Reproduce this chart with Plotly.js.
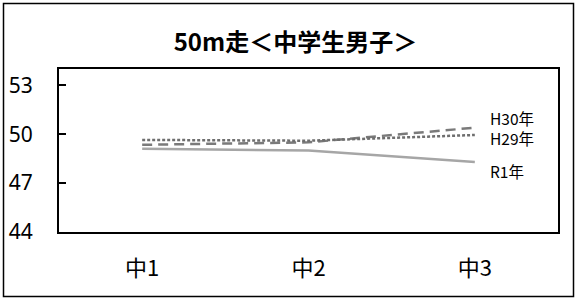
<!DOCTYPE html>
<html>
<head>
<meta charset="utf-8">
<script src="https://cdn.plot.ly/plotly-3.0.1.min.js"></script>
<style>
  html, body { margin: 0; padding: 0; background: #fff; }
  #chart { width: 577px; height: 300px; }
</style>
</head>
<body>
<div id="chart"></div>
<script>
const categories = ['中1', '中2', '中3'];
const seriesNames = ['H30年', 'H29年', 'R1年'];
const h30 = [49.35, 49.5, 50.4];
const h29 = [49.65, 49.6, 49.95];
const r1 = [49.1, 49.0, 48.3];
const yTicks = [44, 47, 50, 53];
const titleText = '50m走＜中学生男子＞';

const styles = [
  { color: '#7a7a7a', dash: '10px,6px', width: 2.5, shift: 10 },
  { color: '#6e6e6e', dash: '3px,2px', width: 2.5, shift: -3 },
  { color: '#a6a6a6', dash: 'solid', width: 2.5, shift: -9 }
];
const values = [h30, h29, r1];

const traces = [2, 0, 1].map(i => ({
  x: categories,
  y: values[i],
  name: seriesNames[i],
  type: 'scatter',
  mode: 'lines',
  line: { color: styles[i].color, dash: styles[i].dash, width: styles[i].width },
  hoverinfo: 'skip'
}));

const annotations = values.map((v, i) => ({
  x: categories[categories.length - 1],
  y: v[v.length - 1],
  xref: 'x', yref: 'y',
  text: seriesNames[i],
  showarrow: false,
  xanchor: 'left',
  yanchor: 'middle',
  xshift: 13,
  yshift: styles[i].shift,
  font: { family: '"Noto Sans CJK JP", "Noto Sans", sans-serif', size: 15.5, color: '#000' }
}));

const layout = {
  width: 577,
  height: 300,
  margin: { l: 59, r: 19, t: 69, b: 68 },
  paper_bgcolor: '#fff',
  plot_bgcolor: '#fff',
  showlegend: false,
  title: {
    text: titleText,
    x: 0.512, xanchor: 'center',
    y: 0.858, yanchor: 'middle',
    font: { family: '"Noto Sans CJK JP", sans-serif', size: 24, color: '#000', weight: 'bold' }
  },
  xaxis: {
    type: 'category',
    range: [-0.5, 2.5],
    showline: true, mirror: true, linecolor: '#000', linewidth: 2,
    showgrid: false, zeroline: false,
    ticks: '',
    ticklabelstandoff: 16,
    tickfont: { family: '"Noto Sans CJK JP", sans-serif', size: 22, color: '#000' },
    fixedrange: true
  },
  yaxis: {
    range: [44, 54],
    tickvals: yTicks,
    ticktext: yTicks.map(String),
    showline: true, mirror: true, linecolor: '#000', linewidth: 2,
    showgrid: false, zeroline: false,
    ticks: 'inside', ticklen: 7, tickwidth: 2, tickcolor: '#000',
    ticklabelstandoff: 20,
    tickfont: { family: '"Noto Sans", sans-serif', size: 21, color: '#000' },
    fixedrange: true
  },
  annotations: annotations,
  shapes: [{
    type: 'rect', xref: 'paper', yref: 'paper',
    x0: (3.5 - 59) / 499, x1: (573.5 - 59) / 499,
    y0: (232 - 296.5) / 163, y1: (232 - 3.5) / 163,
    line: { color: '#000', width: 1.5 },
    fillcolor: 'rgba(0,0,0,0)',
    layer: 'below'
  }]
};

Plotly.newPlot('chart', traces, layout, { staticPlot: true, displayModeBar: false });
</script>
</body>
</html>
